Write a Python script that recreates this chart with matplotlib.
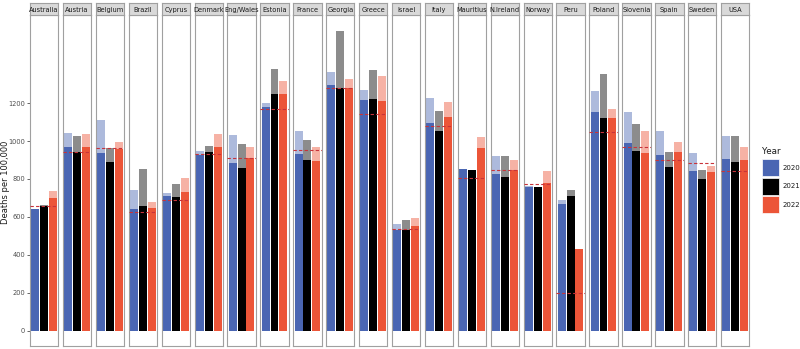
import matplotlib
matplotlib.use("Agg")
import matplotlib.pyplot as plt
from matplotlib.patches import Rectangle

countries = ["Australia", "Austria", "Belgium", "Brazil", "Cyprus", "Denmark", "Eng/Wales",
             "Estonia", "France", "Georgia", "Greece", "Israel", "Italy", "Mauritius",
             "N.Ireland", "Norway", "Peru", "Poland", "Slovenia", "Spain", "Sweden", "USA"]
years = ["2020", "2021", "2022"]

# solid bars (per year)
solid_2020 = [640, 968, 937, 640, 713, 924, 886, 1181, 931, 1295, 1216, 529, 1095, 853, 825, 757, 666, 1153, 989, 928, 843, 907]
solid_2021 = [657, 943, 891, 656, 706, 940, 858, 1247, 900, 1278, 1222, 532, 1052, 848, 808, 759, 712, 1120, 950, 861, 799, 891]
solid_2022 = [699, 970, 956, 647, 729, 970, 910, 1248, 895, 1278, 1210, 551, 1127, 963, 849, 778, 431, 1120, 938, 942, 835, 900]
# lighter (translucent) bars
light_2020 = [635, 1043, 1109, 741, 727, 949, 1029, 1199, 1053, 1364, 1266, 563, 1224, 853, 919, 764, 692, 1263, 1153, 1053, 937, 1024]
light_2021 = [661, 1027, 963, 855, 775, 975, 984, 1377, 1005, 1579, 1376, 583, 1156, 848, 923, 759, 740, 1355, 1090, 943, 848, 1027]
light_2022 = [736, 1039, 996, 678, 804, 1036, 966, 1315, 966, 1328, 1343, 593, 1205, 1022, 902, 843, 431, 1167, 1055, 996, 869, 971]
# expected (dashed line)
expected = [656, 943, 963, 628, 687, 933, 908, 1166, 952, 1278, 1142, 539, 1080, 806, 848, 776, 202, 1045, 966, 898, 886, 844]

colors = ["#4A66B3", "#000000", "#EC5538"]
y_ticks = [0, 200, 400, 600, 800, 1000, 1200]
y_label = "Deaths per 100,000"
legend_title = "Year"

W, H = 800, 349
fig = plt.figure(figsize=(W / 100, H / 100), dpi=100)

def px(x0, y0, w, h):
    return [x0 / W, 1 - (y0 + h) / H, w / W, h / H]

left0, pitch, pw = 30.0, 32.9, 28.4
ptop, pbot = 14.7, 346.0
strip_top = 3.3
ymin, ymax = -79.3, 1665

solids = [solid_2020, solid_2021, solid_2022]
lights = [light_2020, light_2021, light_2022]

for i, c in enumerate(countries):
    x0 = left0 + i * pitch
    ax = fig.add_axes(px(x0, ptop, pw, pbot - ptop))
    xs = [1, 2, 3]
    for j in range(3):
        ax.bar(xs[j], lights[j][i], width=0.9, color=colors[j], alpha=0.45, linewidth=0, zorder=1)
        ax.bar(xs[j], solids[j][i], width=0.9, color=colors[j], linewidth=0, zorder=2)
    ax.axhline(expected[i], color="#C8333A", lw=0.8, ls=(0, (3, 2)), zorder=3)
    ax.set_xlim(0.4, 3.6)
    ax.set_ylim(ymin, ymax)
    ax.set_xticks([])
    for s in ax.spines.values():
        s.set_color("#A0A0A0")
        s.set_linewidth(0.8)
    if i == 0:
        ax.set_yticks(y_ticks)
        ax.set_yticklabels([str(t) for t in y_ticks], fontsize=4.8, color="#4D4D4D")
        ax.tick_params(axis="y", length=2, width=0.6, color="#4D4D4D", pad=1.5)
    else:
        ax.set_yticks([])
    # strip
    sax = fig.add_axes(px(x0, strip_top, pw, ptop - strip_top))
    sax.set_facecolor("#D9D9D9")
    sax.set_xticks([]); sax.set_yticks([])
    for s in sax.spines.values():
        s.set_color("#A0A0A0")
        s.set_linewidth(0.8)
    sax.text(0.5, 0.45, c, ha="center", va="center", fontsize=4.8, color="#1A1A1A",
             transform=sax.transAxes)

# overlay for y label and legend
lax = fig.add_axes([0, 0, 1, 1], facecolor="none")
lax.set_xlim(0, W); lax.set_ylim(H, 0); lax.axis("off")
lax.text(5.5, (ptop + pbot) / 2 + 2, y_label, rotation=90, fontsize=6.0, color="#1A1A1A",
         va="center", ha="center")
lax.text(761.5, 151, legend_title, fontsize=6.3, color="#1A1A1A", va="center", ha="left")
for j, yr in enumerate(years):
    ytop = 159 + j * 18.5
    lax.add_patch(Rectangle((761.7, ytop), 17.3, 17.3, facecolor=colors[j], edgecolor="white", lw=0.5))
    lax.text(783, ytop + 8.6, yr, fontsize=5, color="#1A1A1A", va="center", ha="left")

fig.savefig("out.png", dpi=100)
